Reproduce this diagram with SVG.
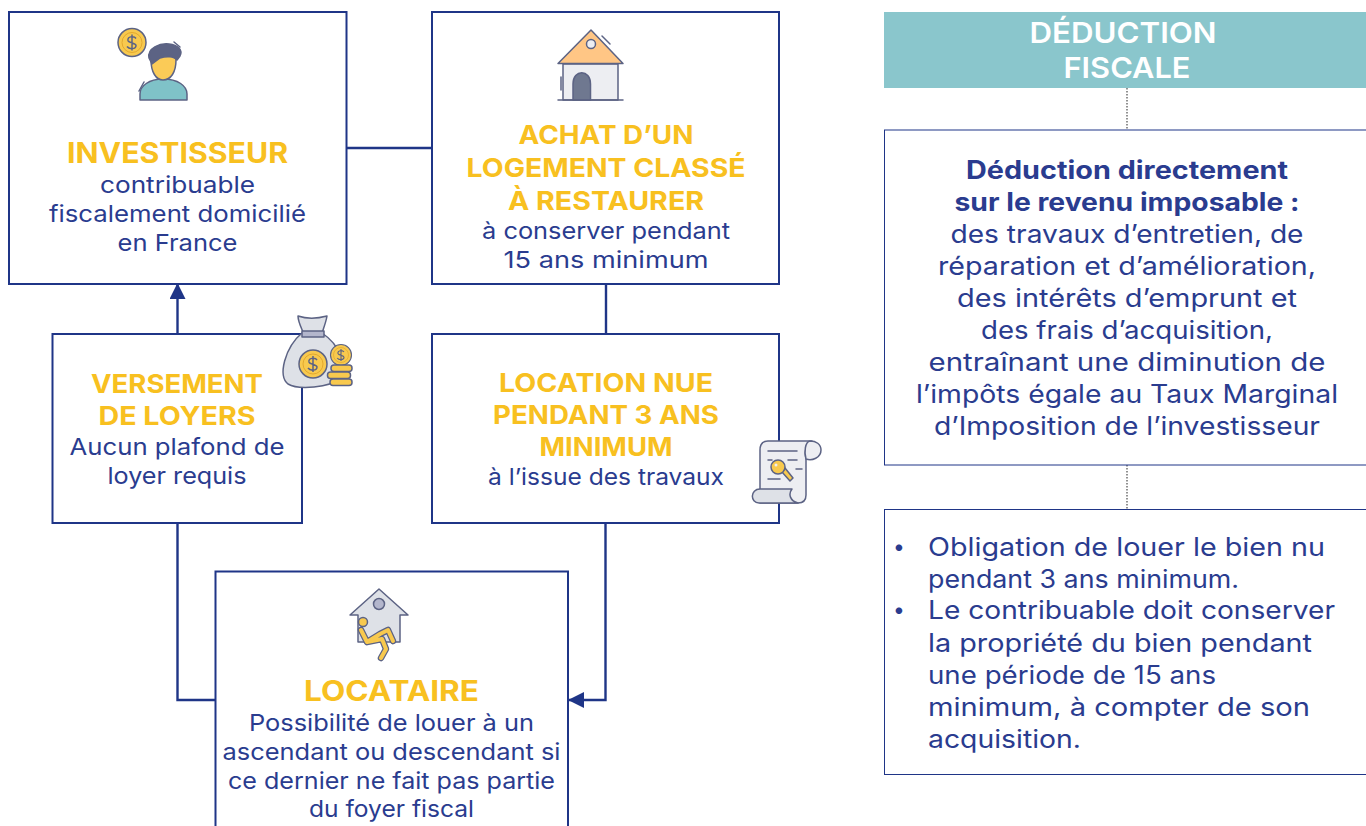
<svg xmlns="http://www.w3.org/2000/svg" width="1366" height="826" viewBox="0 0 1366 826">
<style>
text{font-family:"Inter","Liberation Sans",sans-serif}
.box{fill:#fff;stroke:#1F3587;stroke-width:2}
.thin{fill:#fff;stroke:#1F3587;stroke-width:1}
.c{stroke:#1F3587;stroke-width:2.4;fill:none}
.d{stroke:#777;stroke-width:1.6;stroke-dasharray:1.5 1.5;fill:none}
.y{fill:#F8C020;font-weight:700;text-anchor:middle}
.b{fill:#2A3C8F;font-size:23px;text-anchor:middle}
.bb{fill:#2A3C8F;font-size:25px;font-weight:700;text-anchor:middle}
.r{fill:#2A3C8F;font-size:25px;text-anchor:middle}
.l{fill:#2A3C8F;font-size:25px}
.bu{fill:#2A3C8F;font-size:21px}
.o{stroke:#5C6384;stroke-width:1.5;stroke-linejoin:round;stroke-linecap:round}
.n{fill:none}
.g{fill:#F8C94E}
.limb{fill:none;stroke-linejoin:round;stroke-linecap:round}
</style>
<defs>
<marker id="a" markerWidth="16" markerHeight="16" refX="15" refY="8" orient="auto" markerUnits="userSpaceOnUse"><path d="M0 0L16 8L0 16Z" fill="#1F3587"/></marker>
<g id="coin"><circle r="14" class="g o"/><circle r="10" fill="none" stroke="#E3A92E" stroke-width="1"/><path d="M4-4C2-7-5-6-4-2C-3 1 4 0 4 3C4 7-3 7-5 4M0-8V8" class="n" stroke="#5C6384" stroke-width="1.5"/></g>
</defs>
<g id="connectors">
<path class="c" d="M346 148H432"/>
<path class="c" d="M606 284V334"/>
<path class="c" d="M177.500 334V284" marker-end="url(#a)"/>
<path class="c" d="M177.500 523V700H215"/>
<path class="c" d="M605.500 523V700H569" marker-end="url(#a)"/>
<path class="d" d="M1127 88V130"/>
<path class="d" d="M1127 465V509"/>
</g>
<g id="investisseur">
<rect class="box" x="9" y="12" width="337.500" height="272"/>
<use href="#coin" transform="translate(132 42.500)"/>
<path class="o" d="M140 100V94C140 86 149 79 163 79C178 79 187 86 187 94V100Z" fill="#7FC2C8"/>
<path class="o" d="M151 60C151 52 176 52 176 60C176 72 171 80 163 80C156 80 151 72 151 60Z" fill="#FBCB57"/>
<path class="o" d="M149 58C147 48 160 43 169 44C178 45 183 50 180 56L177 60C174 56 166 56 160 58L152 64Z" fill="#5C6384"/>
<path class="o n" d="M174 42L180 47M139 91L144 82"/>
<text class="y" x="177.500" y="163" font-size="28" textLength="221" lengthAdjust="spacingAndGlyphs">INVESTISSEUR</text>
<text class="b" x="177.500" y="193" textLength="155" lengthAdjust="spacingAndGlyphs">contribuable</text>
<text class="b" x="177.500" y="222" textLength="257" lengthAdjust="spacingAndGlyphs">fiscalement domicilié</text>
<text class="b" x="177.500" y="251" textLength="120" lengthAdjust="spacingAndGlyphs">en France</text>
</g>
<g id="achat">
<rect class="box" x="432" y="12" width="347" height="272"/>
<path class="o" d="M563 64H618V100H563Z" fill="#EDEEF2"/>
<path class="o" d="M558 63.500L591 30L623 63.500Z" fill="#FFC685"/>
<circle class="o" cx="591" cy="44" r="4.500" fill="#EDEEF2"/>
<path class="o" d="M573 100V84C573 69 590.500 69 590.500 84V100Z" fill="#6F7890"/>
<path class="o n" d="M558 100H623M561 77V90M602 36L610 44"/>
<text class="y" x="606" y="144" font-size="26" textLength="175" lengthAdjust="spacingAndGlyphs">ACHAT D’UN</text>
<text class="y" x="606" y="177" font-size="26" textLength="279" lengthAdjust="spacingAndGlyphs">LOGEMENT CLASSÉ</text>
<text class="y" x="606" y="210" font-size="26" textLength="196" lengthAdjust="spacingAndGlyphs">À RESTAURER</text>
<text class="b" x="606" y="239" textLength="248" lengthAdjust="spacingAndGlyphs">à conserver pendant</text>
<text class="b" x="606" y="268" textLength="205" lengthAdjust="spacingAndGlyphs">15 ans minimum</text>
</g>
<g id="versement">
<rect class="box" x="52.500" y="334" width="249.500" height="189"/>
<path class="o" d="M303 332C300 325 298 321 298 316C304 318 312 320 327 316C326 322 324 327 322 333C340 345 347 365 340 378C330 388 298 390 288 384C278 376 284 348 303 332Z" fill="#DEE1E7"/>
<path class="o" d="M302 331H324V337H302Z" fill="#B3B6CC"/>
<use href="#coin" transform="translate(313 364)"/>
<use href="#coin" transform="translate(341 355) scale(.75)"/>
<g class="o g"><rect x="331" y="365" width="21" height="6.500" rx="3"/><rect x="327.500" y="372" width="23" height="6.500" rx="3"/><rect x="330" y="379" width="22" height="6.500" rx="3"/></g>
<text class="y" x="177" y="393" font-size="26" textLength="172" lengthAdjust="spacingAndGlyphs">VERSEMENT</text>
<text class="y" x="177" y="425" font-size="26" textLength="157" lengthAdjust="spacingAndGlyphs">DE LOYERS</text>
<text class="b" x="177" y="455" textLength="215" lengthAdjust="spacingAndGlyphs">Aucun plafond de</text>
<text class="b" x="177" y="484" textLength="139" lengthAdjust="spacingAndGlyphs">loyer requis</text>
</g>
<g id="location">
<rect class="box" x="432" y="334" width="347" height="189"/>
<path class="o" d="M760 489V450C760 444 762 441 768 441H812C806 443 804 452 806 459V495C806 500 803 503 798 503H760Z" fill="#EDEEF2"/>
<path class="o" d="M806 459C812 461 821 458 821 450C821 444 816 441 810 441C805 442 804 452 806 459Z" fill="#EDEEF2"/>
<path class="o" d="M760 489H792C788 494 790 501 798 503H759C750 503 750 489 760 489Z" fill="#DEE1E7"/>
<path class="o n" d="M768 451H797M768 460H772M788 460H797M768 479H780M796 469H802"/>
<path class="o g" d="M782 472L790 481L793 478L785 468Z"/>
<circle class="o g" cx="778" cy="467" r="7"/>
<circle cx="776" cy="465" r="1.500" fill="#EDEEF2"/>
<text class="y" x="606" y="392" font-size="26" textLength="214" lengthAdjust="spacingAndGlyphs">LOCATION NUE</text>
<text class="y" x="606" y="424" font-size="26" textLength="226" lengthAdjust="spacingAndGlyphs">PENDANT 3 ANS</text>
<text class="y" x="606" y="456" font-size="26" textLength="133" lengthAdjust="spacingAndGlyphs">MINIMUM</text>
<text class="b" x="606" y="485" textLength="236" lengthAdjust="spacingAndGlyphs">à l’issue des travaux</text>
</g>
<g id="locataire">
<rect class="box" x="215.500" y="571.500" width="352.500" height="270"/>
<path class="o" d="M350 615L379 589L408 615H400V642H358V615Z" fill="#DEE1E7"/>
<circle class="o" cx="379" cy="604" r="5.500" fill="#B3B6CC"/>
<circle class="o g" cx="363" cy="622" r="4.500"/>
<path class="limb" stroke="#5C6384" stroke-width="6.500" d="M361 630L367 642L382 639L386 649L381 658M367 642L380 634L388 630L393 641"/>
<path class="limb" stroke="#F8C94E" stroke-width="4" d="M361 630L367 642L382 639L386 649L381 658M367 642L380 634L388 630L393 641"/>
<text class="y" x="391.500" y="701" font-size="28" textLength="175" lengthAdjust="spacingAndGlyphs">LOCATAIRE</text>
<text class="b" x="391.500" y="731" textLength="285" lengthAdjust="spacingAndGlyphs">Possibilité de louer à un</text>
<text class="b" x="391.500" y="760" textLength="338" lengthAdjust="spacingAndGlyphs">ascendant ou descendant si</text>
<text class="b" x="391.500" y="789" textLength="327" lengthAdjust="spacingAndGlyphs">ce dernier ne fait pas partie</text>
<text class="b" x="391.500" y="817" textLength="165" lengthAdjust="spacingAndGlyphs">du foyer fiscal</text>
</g>
<g id="deduction-fiscale">
<rect x="884" y="12" width="482" height="76" fill="#8AC6CC"/>
<text x="1123" y="43" font-size="29" font-weight="600" fill="#fff" text-anchor="middle" textLength="187" lengthAdjust="spacingAndGlyphs">DÉDUCTION</text>
<text x="1127" y="78" font-size="29" font-weight="600" fill="#fff" text-anchor="middle" textLength="127" lengthAdjust="spacingAndGlyphs">FISCALE</text>
</g>
<g id="deduction-box">
<rect class="thin" x="884.500" y="130" width="490" height="335"/>
<text class="bb" x="1127" y="179" textLength="322" lengthAdjust="spacingAndGlyphs">Déduction directement</text>
<text class="bb" x="1127" y="211" textLength="345" lengthAdjust="spacingAndGlyphs">sur le revenu imposable :</text>
<text class="r" x="1127" y="243" textLength="353" lengthAdjust="spacingAndGlyphs">des travaux d’entretien, de</text>
<text class="r" x="1127" y="275" textLength="378" lengthAdjust="spacingAndGlyphs">réparation et d’amélioration,</text>
<text class="r" x="1127" y="307" textLength="340" lengthAdjust="spacingAndGlyphs">des intérêts d’emprunt et</text>
<text class="r" x="1127" y="339" textLength="292" lengthAdjust="spacingAndGlyphs">des frais d’acquisition,</text>
<text class="r" x="1127" y="371" textLength="397" lengthAdjust="spacingAndGlyphs">entraînant une diminution de</text>
<text class="r" x="1127" y="403" textLength="422" lengthAdjust="spacingAndGlyphs">l’impôts égale au Taux Marginal</text>
<text class="r" x="1127" y="435" textLength="386" lengthAdjust="spacingAndGlyphs">d’Imposition de l’investisseur</text>
</g>
<g id="obligations-box">
<rect class="thin" x="884.500" y="509.500" width="490" height="265"/>
<text class="bu" x="893" y="554">•</text>
<text class="l" x="928" y="556" textLength="397" lengthAdjust="spacingAndGlyphs">Obligation de louer le bien nu</text>
<text class="l" x="928" y="588" textLength="311" lengthAdjust="spacingAndGlyphs">pendant 3 ans minimum.</text>
<text class="bu" x="893" y="617">•</text>
<text class="l" x="928" y="619" textLength="407" lengthAdjust="spacingAndGlyphs">Le contribuable doit conserver</text>
<text class="l" x="928" y="652" textLength="384" lengthAdjust="spacingAndGlyphs">la propriété du bien pendant</text>
<text class="l" x="928" y="684" textLength="288" lengthAdjust="spacingAndGlyphs">une période de 15 ans</text>
<text class="l" x="928" y="716" textLength="382" lengthAdjust="spacingAndGlyphs">minimum, à compter de son</text>
<text class="l" x="928" y="748" textLength="153" lengthAdjust="spacingAndGlyphs">acquisition.</text>
</g>
</svg>
